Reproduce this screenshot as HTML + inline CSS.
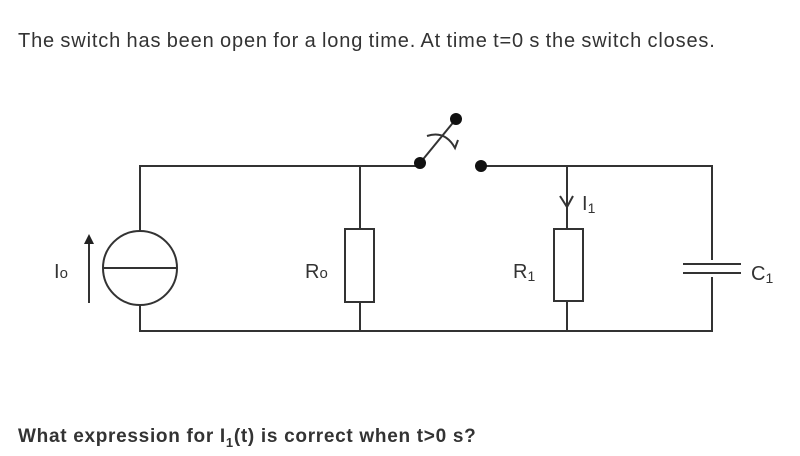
<!DOCTYPE html>
<html><head><style>
body{margin:0;width:800px;height:456px;background:#fff;overflow:hidden;font-family:"Liberation Sans",sans-serif;position:relative}
.t{position:absolute;left:18px;top:30px;font-size:20px;color:#333;letter-spacing:0.85px;word-spacing:-1px}
.b{position:absolute;left:18px;top:426px;font-size:19px;font-weight:bold;color:#333;letter-spacing:0.7px}
</style></head><body>
<div class="t">The switch has been open for a long time. At time t=0 s the switch closes.</div>
<svg width="800" height="456" style="position:absolute;left:0;top:0" font-family="Liberation Sans, sans-serif">
<g stroke="#333" stroke-width="2" fill="none">
<path d="M140 231 V166 H420"/>
<path d="M140 305 V331 H712 V166 H481"/>
<circle cx="140" cy="268" r="37" fill="#fff"/>
<line x1="103" y1="268" x2="177" y2="268"/>
<line x1="89" y1="303" x2="89" y2="242"/>
<line x1="360" y1="166" x2="360" y2="331"/>
<rect x="345" y="229" width="29" height="73" fill="#fff"/>
<line x1="567" y1="166" x2="567" y2="331"/>
<rect x="554" y="229" width="29" height="72" fill="#fff"/>
<path d="M560 196 L567 207 L573 196"/>
<rect x="680" y="260" width="64" height="17" fill="#fff" stroke="none"/>
<line x1="683" y1="264" x2="741" y2="264"/>
<line x1="683" y1="273" x2="741" y2="273"/>
<line x1="420" y1="163" x2="456" y2="119"/>
<path d="M427 136 Q445 130 455 148 L458 140"/>
</g>
<polygon points="89,234 84,244 94,244" fill="#222"/>
<circle cx="420" cy="163" r="6" fill="#111"/>
<circle cx="456" cy="119" r="6" fill="#111"/>
<circle cx="481" cy="166" r="6" fill="#111"/>
<g fill="#333" font-size="20">
<text x="54" y="278">I<tspan font-size="15">o</tspan></text>
<text x="305" y="278">R<tspan font-size="15">o</tspan></text>
<text x="513" y="278">R<tspan font-size="14" dy="3">1</tspan></text>
<text x="582" y="210">I<tspan font-size="14" dy="3">1</tspan></text>
<text x="751" y="280">C<tspan font-size="14" dy="3">1</tspan></text>
</g>
</svg>
<div class="b">What expression for I<sub style="font-size:13px">1</sub>(t) is correct when t&gt;0 s?</div>
</body></html>
